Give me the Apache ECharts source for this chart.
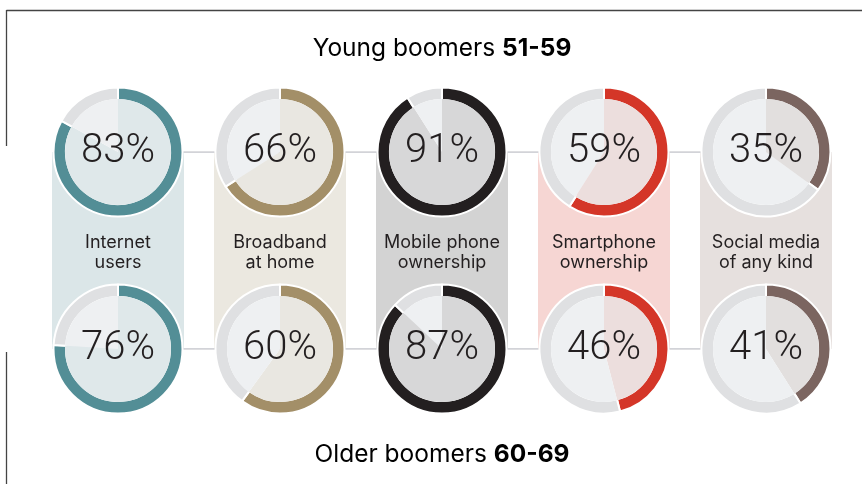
<!DOCTYPE html>
<html>
<head>
<meta charset="utf-8">
<script src="https://cdn.jsdelivr.net/npm/echarts@6/dist/echarts.min.js"></script>
<style>
  html, body { margin: 0; padding: 0; background: #fff; }
  #chart { width: 862px; height: 484px; }
</style>
</head>
<body>
<div id="chart"></div>
<script>
// Internet and technology adoption, young vs older boomers (%)
const categories = ['Internet\nusers', 'Broadband\nat home', 'Mobile phone\nownership', 'Smartphone\nownership', 'Social media\nof any kind'];
const youngValues = [83, 66, 91, 59, 35];
const olderValues = [76, 60, 87, 46, 41];
const youngTitle = ['Young boomers ', '51-59'];
const olderTitle = ['Older boomers ', '60-69'];

// palette per category
const ringColors = ['#538e96', '#a38f68', '#231f20', '#d43628', '#7b6560'];
const sectorTints = ['#dfe8ea', '#e9e7e1', '#d7d7d8', '#ecdedd', '#e2dfde'];
const columnColors = ['#dbe6e8', '#ebe8e0', '#d3d3d3', '#f6d6d3', '#e6e0de'];
const restRing = '#dfe0e2';
const restSector = '#eef0f2';
const inkColor = '#231f20';
const FONT = 'Inter, "Liberation Sans", Arial, sans-serif';
const NUM_FONT = 'Roboto, Inter, "Liberation Sans", sans-serif';

const chart = echarts.init(document.getElementById('chart'), null, { renderer: 'canvas' });

const base = {
  animation: false,
  backgroundColor: '#fff',
  grid: { left: 37, width: 810, top: 152, height: 197 },
  xAxis: { type: 'category', data: categories, show: false, boundaryGap: true },
  yAxis: { type: 'value', min: 0, max: 1, show: false },
  series: [
    {
      type: 'bar',
      silent: true,
      barWidth: 132,
      data: categories.map((c, i) => ({ value: 1, itemStyle: { color: columnColors[i] } })),
      label: {
        show: true,
        position: 'inside',
        formatter: p => categories[p.dataIndex],
        color: inkColor,
        fontFamily: FONT,
        fontSize: 18,
        lineHeight: 20,
        offset: [0, 2]
      },
      z: 1
    },
    {
      type: 'line', silent: true, symbol: 'none', z: 1,
      data: youngValues.map(() => 1),
      lineStyle: { color: '#c4c5cb', width: 1.6 }
    },
    {
      type: 'line', silent: true, symbol: 'none', z: 1,
      data: olderValues.map(() => 0),
      lineStyle: { color: '#c4c5cb', width: 1.6 }
    }
  ]
};
chart.setOption(base);

function donut(center, v, i) {
  return [
    {
      type: 'pie', silent: true, z: 3,
      center: center, radius: [52, 64.5],
      startAngle: 90, clockwise: true,
      label: { show: false }, labelLine: { show: false },
      itemStyle: { borderColor: '#fff', borderWidth: 2 },
      data: [
        { value: v, itemStyle: { color: ringColors[i] } },
        { value: 100 - v, itemStyle: { color: restRing } }
      ]
    },
    {
      type: 'pie', silent: true, z: 4,
      center: center, radius: [0, 53],
      startAngle: 90, clockwise: true,
      labelLine: { show: false },
      label: { show: false },
      data: [
        {
          value: v, itemStyle: { color: sectorTints[i] },
          label: {
            show: true, position: 'center',
            formatter: v + '%',
            fontFamily: NUM_FONT, fontWeight: 300, fontSize: 40,
            color: inkColor
          }
        },
        { value: 100 - v, itemStyle: { color: restSector }, label: { show: false } }
      ]
    }
  ];
}

const pies = [];
categories.forEach((c, i) => {
  const top = chart.convertToPixel({ xAxisIndex: 0, yAxisIndex: 0 }, [i, 1]);
  const bottom = chart.convertToPixel({ xAxisIndex: 0, yAxisIndex: 0 }, [i, 0]);
  pies.push(...donut(top, youngValues[i], i));
  pies.push(...donut(bottom, olderValues[i], i));
});

const mid = chart.convertToPixel({ xAxisIndex: 0, yAxisIndex: 0 }, [2, 1])[0];
const titleRich = {
  n: { fontFamily: FONT, fontSize: 24.5, color: inkColor },
  b: { fontFamily: FONT, fontSize: 24.5, fontWeight: 'bold', color: inkColor }
};

chart.setOption({
  series: base.series.concat(pies),
  graphic: [
    {
      type: 'text', silent: true,
      style: {
        text: '{n|' + youngTitle[0] + '}{b|' + youngTitle[1] + '}',
        x: mid, y: 49, align: 'center', verticalAlign: 'middle', rich: titleRich
      }
    },
    {
      type: 'text', silent: true,
      style: {
        text: '{n|' + olderTitle[0] + '}{b|' + olderTitle[1] + '}',
        x: mid, y: 455, align: 'center', verticalAlign: 'middle', rich: titleRich
      }
    },
    // frame rules
    { type: 'line', silent: true, shape: { x1: 6.5, y1: 10.5, x2: 862, y2: 10.5 }, style: { stroke: '#444', lineWidth: 1.3 } },
    { type: 'line', silent: true, shape: { x1: 6.5, y1: 10, x2: 6.5, y2: 146 }, style: { stroke: '#444', lineWidth: 1.3 } },
    { type: 'line', silent: true, shape: { x1: 6.5, y1: 352, x2: 6.5, y2: 484 }, style: { stroke: '#444', lineWidth: 1.3 } }
  ]
});
</script>
</body>
</html>
